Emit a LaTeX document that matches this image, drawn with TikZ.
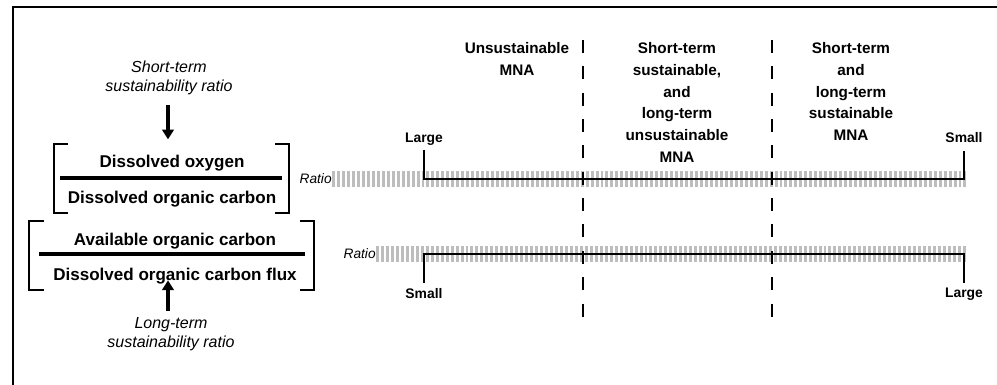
\documentclass[tikz,border=0pt]{standalone}
\usepackage{fontspec}
\setmainfont{Liberation Sans}
\usetikzlibrary{arrows.meta}

\begin{document}
\begin{tikzpicture}[x=0.02cm, y=-0.02cm,
  term/.style={font=\fontsize{9.7}{11}\selectfont\bfseries, inner sep=0pt, anchor=base},
  note/.style={font=\fontsize{9.1}{11.2}\selectfont\itshape, align=center, inner sep=0pt},
  zone/.style={font=\fontsize{8.7}{12.4}\selectfont\bfseries, align=center, inner sep=0pt, anchor=north},
  tag/.style={font=\fontsize{7.9}{9}\selectfont\bfseries, inner sep=0pt},
  ratiolbl/.style={font=\fontsize{7.8}{9}\selectfont\itshape, inner sep=0pt, anchor=east},
  bar/.style={line width=9.2pt, draw=black!26, dash pattern=on 1.7pt off 1.13pt},
  fracbar/.style={line width=1.8pt},
  brk/.style={line width=0.6pt},
  pointer/.style={-{Triangle[width=6.5pt,length=5.5pt]}, line width=2.8pt},
  span/.style={line width=0.6pt},
  divider/.style={line width=0.6pt, dash pattern=on 7.4pt off 7.6pt},
]
  \useasboundingbox (0,0) rectangle (997,385);
  \draw[line width=0.9pt] (13,385) -- (13,7) -- (997,7);
  \coordinate (ax) at (168,0);

  % short-term ratio
  \node[note] (st) at (169,78) {Short-term\\sustainability ratio};
  \node[term] (num1) at (172,167) {Dissolved oxygen};
  \node[term] (den1) at (172,203) {Dissolved organic carbon};
  \draw[fracbar] (60,178) -- (282,178);
  \draw[brk] (68,144) -- (54,144) -- (54,213) -- (68,213);
  \draw[brk] (275,144) -- (289,144) -- (289,213) -- (275,213);
  \draw[pointer] ([yshift=-5.5pt]st.south -| ax) -- ([yshift=8.5pt]num1.north -| ax);

  % long-term ratio
  \node[term] (num2) at (175,245) {Available organic carbon};
  \node[term] (den2) at (175,280) {Dissolved organic carbon flux};
  \node[note] (lt) at (171,334) {Long-term\\sustainability ratio};
  \draw[fracbar] (39,254) -- (305,254);
  \draw[brk] (44,221) -- (29,221) -- (29,290) -- (44,290);
  \draw[brk] (300,221) -- (314,221) -- (314,290) -- (300,290);
  \draw[pointer] ([yshift=3.4pt]lt.north -| ax) -- ([yshift=-0.2pt]den2.base -| ax);

  % zones
  \node[zone] (z1) at (517,42) {Unsustainable\\MNA};
  \node[zone] (z2) at (677,42) {Short-term\\sustainable,\\and\\long-term\\unsustainable\\MNA};
  \node[zone] (z3) at (851,42) {Short-term\\and\\long-term\\sustainable\\MNA};

  % ratio scales
  \node[ratiolbl] (ratio1) at (332,179) {Ratio};
  \node[ratiolbl] (ratio2) at (376,254) {Ratio};
  \node[tag, anchor=base] (lg1) at (424,142) {Large};
  \node[tag, anchor=base] (sm1) at (964,142) {Small};
  \node[tag, anchor=north] (sm2) at (424,288) {Small};
  \node[tag, anchor=north] (lg2) at (964,288) {Large};
  \draw[bar] (ratio1.east) -- ([xshift=1.7pt]ratio1 -| sm1);
  \draw[bar] (ratio2.east) -- ([xshift=1.7pt]ratio2 -| lg2);
  \draw[span] ([yshift=-4.5pt]lg1.base) -- (lg1 |- ratio1) -- (sm1 |- ratio1) -- ([yshift=-5pt]sm1.base);
  \draw[span] ([yshift=3pt]sm2.north) -- (sm2 |- ratio2) -- (lg2 |- ratio2) -- ([yshift=3pt]lg2.north);

  \draw[divider] (583,40) -- (583,322);
  \draw[divider] (772,40) -- (772,322);
\end{tikzpicture}
\end{document}
